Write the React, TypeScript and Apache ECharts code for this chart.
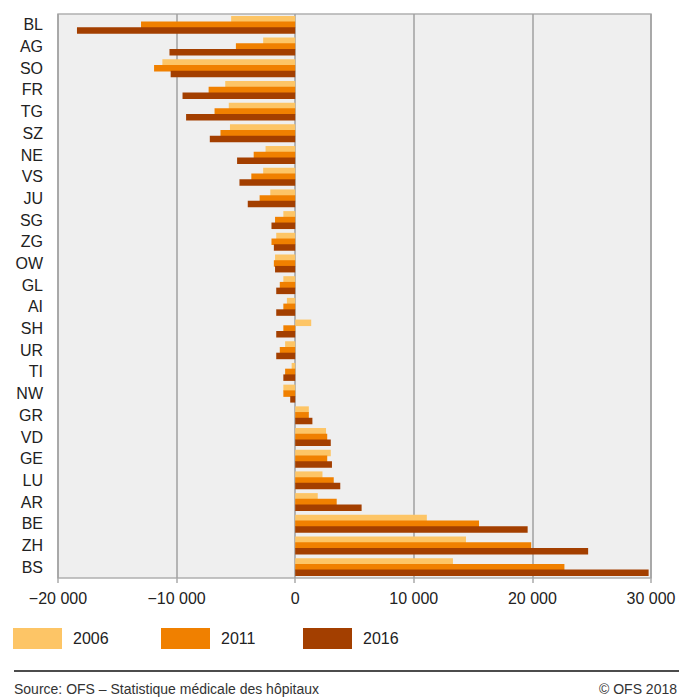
import React, { useEffect, useRef } from "react";
import * as echarts from "echarts";

const categories = ["BL","AG","SO","FR","TG","SZ","NE","VS","JU","SG","ZG","OW","GL","AI","SH","UR","TI","NW","GR","VD","GE","LU","AR","BE","ZH","BS"];
const v2006 = [-5400,-2700,-11200,-5900,-5600,-5500,-2500,-2700,-2100,-1000,-1600,-1700,-1000,-700,1350,-850,-300,-1000,1150,2600,3000,2300,1900,11100,14400,13300];
const v2011 = [-13000,-5000,-11900,-7300,-6800,-6300,-3500,-3700,-3000,-1700,-2000,-1800,-1300,-1000,-1000,-1300,-850,-1000,1150,2700,2700,3250,3500,15500,19900,22700];
const v2016 = [-18400,-10600,-10500,-9500,-9200,-7200,-4900,-4700,-4000,-2000,-1800,-1700,-1600,-1600,-1600,-1600,-1000,-420,1450,3000,3100,3800,5600,19600,24700,29800];
const seriesNames = ["2006","2011","2016"];
const colors = ["#fdc566","#f08000","#a33f00"];
const legendLeft = [13, 161, 303];
const sourceText = "Source: OFS \u2013 Statistique médicale des hôpitaux";
const copyrightText = "© OFS 2018";

const FONT = "Liberation Sans, Arial, sans-serif";

function fmt(v: number): string {
  const a = Math.abs(v);
  const s = a >= 1000 ? Math.floor(a / 1000) + " " + String(a % 1000).padStart(3, "0") : String(a);
  return (v < 0 ? "\u2212" : "") + s;
}

export default function App() {
  const ref = useRef<HTMLDivElement>(null);
  useEffect(() => {
    const chart = echarts.init(ref.current!, null, { renderer: "svg" });
    const data = [v2006, v2011, v2016];
    chart.setOption({
      animation: false,
      textStyle: { fontFamily: FONT },
      grid: {
        left: 58, top: 14, right: 28, bottom: 121,
        show: true, backgroundColor: "#efefef", borderColor: "#b0b0b0", borderWidth: 1.5,
      },
      xAxis: {
        type: "value", min: -20000, max: 30000, interval: 10000,
        axisLine: { show: false },
        axisTick: { show: true, length: 5, lineStyle: { color: "#aaa", width: 1.5 } },
        splitLine: { show: true, lineStyle: { color: "#a0a0a0", width: 1.5 } },
        axisLabel: { formatter: (v: number) => fmt(v), fontSize: 16, color: "#222", margin: 12, fontFamily: FONT },
      },
      yAxis: {
        type: "category", inverse: true, data: categories,
        axisLine: { show: false }, axisTick: { show: false },
        axisLabel: { fontSize: 16, color: "#222", margin: 15, fontFamily: FONT },
      },
      legend: seriesNames.map((n, i) => ({
        data: [n], left: legendLeft[i], top: 628, padding: 0,
        itemWidth: 49, itemHeight: 21, icon: "rect",
        textStyle: { fontSize: 16, color: "#222", fontFamily: FONT, padding: [0, 0, 0, 6] },
      })),
      series: seriesNames.map((n, i) => ({
        name: n, type: "bar", data: data[i], barWidth: 6.5, barGap: "-12%",
        itemStyle: { color: colors[i] },
      })),
      graphic: [
        { type: "line", shape: { x1: 14, y1: 671, x2: 679, y2: 671 }, style: { stroke: "#111", lineWidth: 1.5 } },
        { type: "text", left: 14, top: 682, style: { text: sourceText, fontSize: 14, fill: "#333", fontFamily: FONT } },
        { type: "text", right: 2, top: 682, style: { text: copyrightText, fontSize: 14, fill: "#333", fontFamily: FONT } },
      ],
    });
    return () => chart.dispose();
  }, []);
  return <div ref={ref} style={{ position: "absolute", left: 0, top: 0, width: 679, height: 699 }} />;
}
